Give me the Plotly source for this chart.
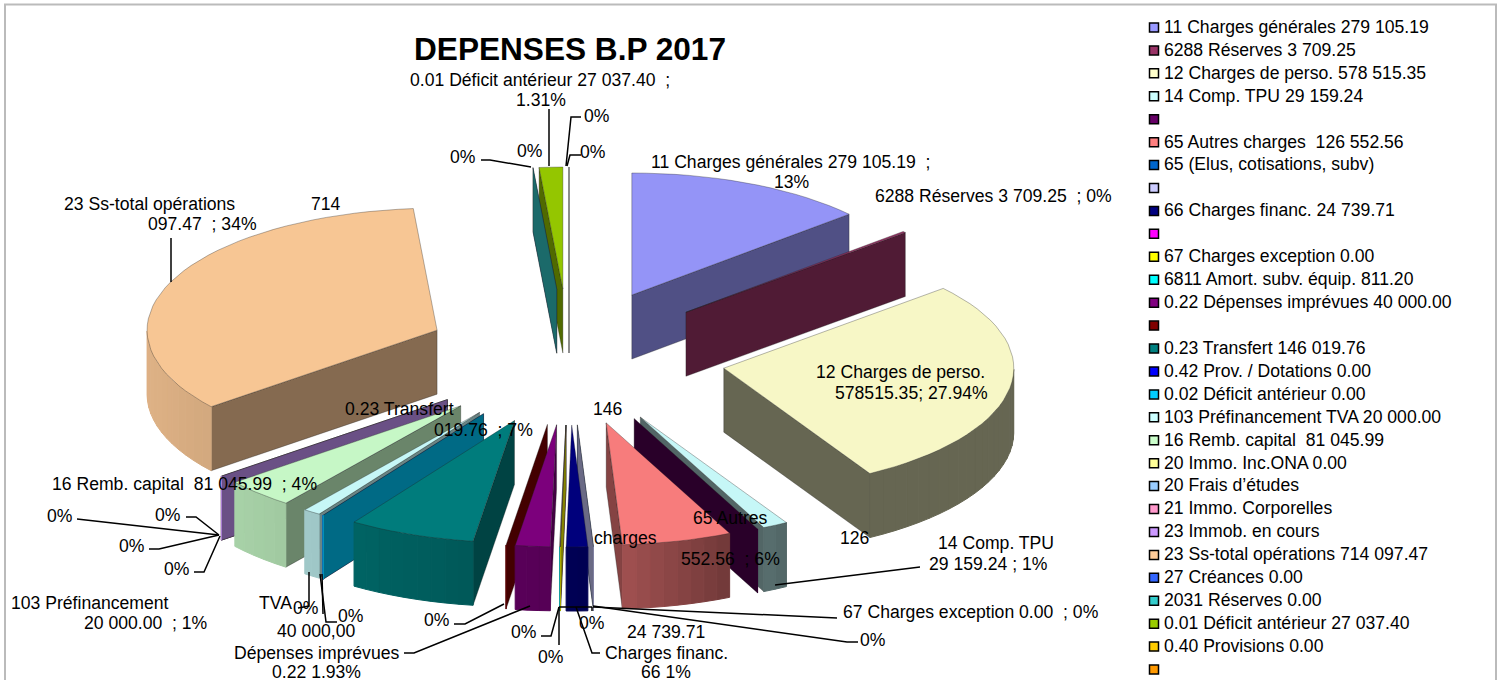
import math
import plotly.graph_objects as go

# ---- data ----
legend_names = [
    "11 Charges générales 279 105.19", "6288 Réserves 3 709.25", "12 Charges de perso. 578 515.35",
    "14 Comp. TPU 29 159.24", " ", "65 Autres charges  126 552.56", "65 (Elus, cotisations, subv)",
    " ", "66 Charges financ. 24 739.71", " ", "67 Charges exception 0.00",
    "6811 Amort. subv. équip. 811.20", "0.22 Dépenses imprévues 40 000.00", " ",
    "0.23 Transfert 146 019.76", "0.42 Prov. / Dotations 0.00", "0.02 Déficit antérieur 0.00",
    "103 Préfinancement TVA 20 000.00", "16 Remb. capital  81 045.99", "20 Immo. Inc.ONA 0.00",
    "20 Frais d’études", "21 Immo. Corporelles", "23 Immob. en cours",
    "23 Ss-total opérations 714 097.47", "27 Créances 0.00", "2031 Réserves 0.00",
    "0.01 Déficit antérieur 27 037.40", "0.40 Provisions 0.00", " ",
]
values = [
    279105.19, 3709.25, 578515.35, 29159.24, 0, 126552.56, 0, 0, 24739.71, 0, 0, 811.20,
    40000.00, 0, 146019.76, 0, 0, 20000.00, 81045.99, 0, 0, 0, 0, 714097.47, 0, 0,
    27037.40, 0, 0,
]
colors = [
    "#9999FF", "#993366", "#FFFFCC", "#CCFFFF", "#660066", "#FF8080", "#0066CC", "#CCCCFF",
    "#000080", "#FF00FF", "#FFFF00", "#00FFFF", "#800080", "#800000", "#008080", "#0000FF",
    "#00CCFF", "#CCFFFF", "#CCFFCC", "#FFFF99", "#99CCFF", "#FF99CC", "#CC99FF", "#FFCC99",
    "#3366FF", "#33CCCC", "#99CC00", "#FFCC00", "#FF9900",
]
title_text = "DEPENSES B.P 2017"

# data labels: x, y, anchor, text
labels = [
    (408, 80, "left", "0.01 Déficit antérieur 27 037.40  ;"), (541, 100, "center", "1.31%"),
    (597, 116, "center", "0%"), (530, 151, "center", "0%"), (593, 152, "center", "0%"), (463, 157, "center", "0%"),
    (649, 162, "left", "11 Charges générales 279 105.19  ;"), (792, 182, "center", "13%"),
    (873, 196, "left", "6288 Réserves 3 709.25  ; 0%"),
    (900, 372, "center", "12 Charges de perso."), (911, 393, "center", "578515.35; 27.94%"),
    (62, 204, "left", "23 Ss-total opérations"), (309, 204, "left", "714"), (146, 224, "left", "097.47  ; 34%"),
    (343, 409, "left", "0.23 Transfert"), (591, 409, "left", "146"), (432, 430, "left", "019.76  ; 7%"),
    (50, 484, "left", "16 Remb. capital  81 045.99  ; 4%"),
    (168, 515, "center", "0%"), (60, 516, "center", "0%"), (132, 546, "center", "0%"), (177, 569, "center", "0%"),
    (9, 603, "left", "103 Préfinancement"), (82, 623, "left", "20 000.00  ; 1%"),
    (257, 603, "left", "TVA"), (306, 608, "center", "0%"), (351, 616, "center", "0%"),
    (316, 631, "center", "40 000,00"), (316, 653, "center", "Dépenses imprévues"), (316, 672, "center", "0.22 1.93%"),
    (437, 620, "center", "0%"), (524, 632, "center", "0%"), (551, 657, "center", "0%"), (592, 623, "center", "0%"),
    (666, 632, "center", "24 739.71"), (666, 653, "center", "Charges financ."), (666, 672, "center", "66 1%"),
    (592, 538, "left", "charges"), (691, 518, "left", "65 Autres"), (679, 559, "left", "552.56  ; 6%"),
    (838, 538, "left", "126"),
    (996, 543, "center", "14 Comp. TPU"), (988, 564, "center", "29 159.24 ; 1%"),
    (841, 612, "left", "67 Charges exception 0.00  ; 0%"), (873, 640, "center", "0%"),
]
# leader lines of the data labels
leaders = [
    [(549, 109), (549, 166)], [(581, 117), (571, 117), (566, 166)], [(581, 155), (570, 155), (567, 166)],
    [(481, 160), (490, 160), (531, 167)], [(171, 282), (171, 238)],
    [(77, 519), (219, 535)], [(186, 517), (196, 517), (219, 535)],
    [(149, 549), (159, 549), (219, 535)], [(194, 572), (204, 572), (220, 536)],
    [(309, 572), (309, 606), (298, 608)], [(320, 574), (326, 622), (337, 622)], [(322, 574), (323, 614)],
    [(454, 624), (465, 624), (504, 604)], [(404, 653), (414, 653), (530, 606)],
    [(541, 636), (551, 636), (559, 607)], [(559, 607), (559, 645)], [(559, 607), (592, 607)],
    [(600, 653), (592, 653), (576, 607)], [(592, 607), (592, 611)],
    [(837, 618), (593, 607)], [(858, 642), (847, 642), (593, 606)], [(775, 585), (920, 567)],
]

# ---- projection of the exploded 3-D pie ----
CX, CY = 576, 357       # pie centre
RX, RY = 290, 122       # ellipse radii
EX, EY = 150, 68        # explosion distance
DEPTH = 64              # wall height
LABEL_SIZE = 17.6
LEGEND_X, LEGEND_TOP, LEGEND_STEP = 1154, 27.5, 22.93


def rgb(hex_color, f):
    r, g, b = (int(hex_color[i:i + 2], 16) for i in (1, 3, 5))
    return f"rgb({min(255, round(r * f))},{min(255, round(g * f))},{min(255, round(b * f))})"


def rim(apex, deg):
    t = math.radians(deg)
    return apex[0] + RX * math.sin(t), apex[1] - RY * math.cos(t)


total = sum(values)
slices, cum = [], 0.0
for i, v in enumerate(values):
    a0 = cum / total * 360
    cum += v
    a1 = cum / total * 360
    mid = math.radians((a0 + a1) / 2)
    sm, cm = math.sin(mid), math.cos(mid)
    skew = -7 * cm ** 2
    if sm < 0 and cm < 0:
        skew -= 15 * sm ** 2
    apex = (CX + skew + EX * sm, CY - EY * cm)
    slices.append(dict(i=i, a0=a0, a1=a1, apex=apex))

fig = go.Figure()
EDGE = dict(color="rgba(30,30,30,0.55)", width=0.6)


def poly(pts, fill, line=EDGE):
    fig.add_trace(go.Scatter(
        x=[p[0] for p in pts] + [pts[0][0]], y=[p[1] for p in pts] + [pts[0][1]],
        mode="lines", fill="toself", fillcolor=fill, line=line,
        hoverinfo="skip", showlegend=False))


def lowered(p):
    return p[0], p[1] + DEPTH


for s in sorted(slices, key=lambda d: d["apex"][1]):
    i, a0, a1, A = s["i"], s["a0"], s["a1"], s["apex"]
    col = colors[i]
    n = max(2, int((a1 - a0) / 3) + 2)
    arc_deg = [a0 + (a1 - a0) * k / (n - 1) for k in range(n)]
    arc = [rim(A, d) for d in arc_deg]
    M = rim(A, (a0 + a1) / 2)
    empty = a1 - a0 < 0.01

    # radial side faces
    for deg in ([a0] if empty else [a0, a1]):
        P = rim(A, deg)
        if empty:
            show = True
        elif abs(P[0] - A[0]) < 1:
            show = False
        else:
            show = M[1] < A[1] + (M[0] - A[0]) * (P[1] - A[1]) / (P[0] - A[0])
        if show:
            f = 0.4 if 100 < deg < 165 else 0.52
            poly([A, P, lowered(P), lowered(A)], rgb(col, f))

    # curved outer wall, shaded with its direction
    for k in range(n - 1):
        d0, d1 = arc_deg[k], arc_deg[k + 1]
        md = math.radians((d0 + d1) / 2)
        if math.cos(md) >= 0:
            continue
        sn = math.sin(md)
        f = 0.66 - 0.21 * sn if sn < 0 else 0.66 - 0.26 * min(1, 2 * sn)
        c = rgb(col, f)
        poly([arc[k], arc[k + 1], lowered(arc[k + 1]), lowered(arc[k])], c,
             line=dict(color=c, width=1))

    # top face
    if not empty:
        poly([A] + arc, rgb(col, 0.97))

# leader lines
lx, ly = [], []
for seg in leaders:
    lx += [p[0] for p in seg] + [None]
    ly += [p[1] for p in seg] + [None]
fig.add_trace(go.Scatter(x=lx, y=ly, mode="lines", line=dict(color="black", width=1.5),
                         hoverinfo="skip", showlegend=False))

FONT = "Liberation Sans, Arial, sans-serif"

# legend column: keys and their texts
legend_y = [LEGEND_TOP + LEGEND_STEP * k for k in range(len(legend_names))]
fig.add_trace(go.Scatter(
    x=[LEGEND_X] * len(legend_y), y=legend_y, mode="markers", hoverinfo="skip", showlegend=False,
    marker=dict(symbol="square", size=9, color=colors, line=dict(color="black", width=1.5))))
fig.add_trace(go.Scatter(
    x=[LEGEND_X + 10] * len(legend_y), y=[y + 1 for y in legend_y], mode="text", hoverinfo="skip", showlegend=False,
    text=[t.replace("  ", "\u00a0 ") for t in legend_names], textposition="middle right",
    textfont=dict(family=FONT, size=LABEL_SIZE, color="black")))

ann = [dict(x=x, y=y, xref="x", yref="y", xanchor=anc, yanchor="middle", showarrow=False,
            text=t.replace("  ", "\u00a0 "), font=dict(family=FONT, size=LABEL_SIZE, color="black"))
       for x, y, anc, t in labels]
ann.append(dict(x=570, y=49, xref="x", yref="y", xanchor="center", yanchor="middle", showarrow=False,
                text=f"<b>{title_text}</b>", font=dict(family=FONT, size=31.6, color="black")))

fig.update_layout(
    width=1500, height=680, margin=dict(l=0, r=0, t=0, b=0),
    paper_bgcolor="white", plot_bgcolor="white", showlegend=False,
    xaxis=dict(range=[0, 1500], visible=False, fixedrange=True),
    yaxis=dict(range=[680, 0], visible=False, fixedrange=True),
    annotations=ann,
    shapes=[dict(type="rect", xref="x", yref="y", x0=5, y0=4.5, x1=1496, y1=700,
                 line=dict(color="#BBBBBB", width=2), layer="below")],
)
fig.write_html("out.html", config={"displayModeBar": False},
               post_script="document.body.style.margin='0';document.body.style.overflow='hidden';")
